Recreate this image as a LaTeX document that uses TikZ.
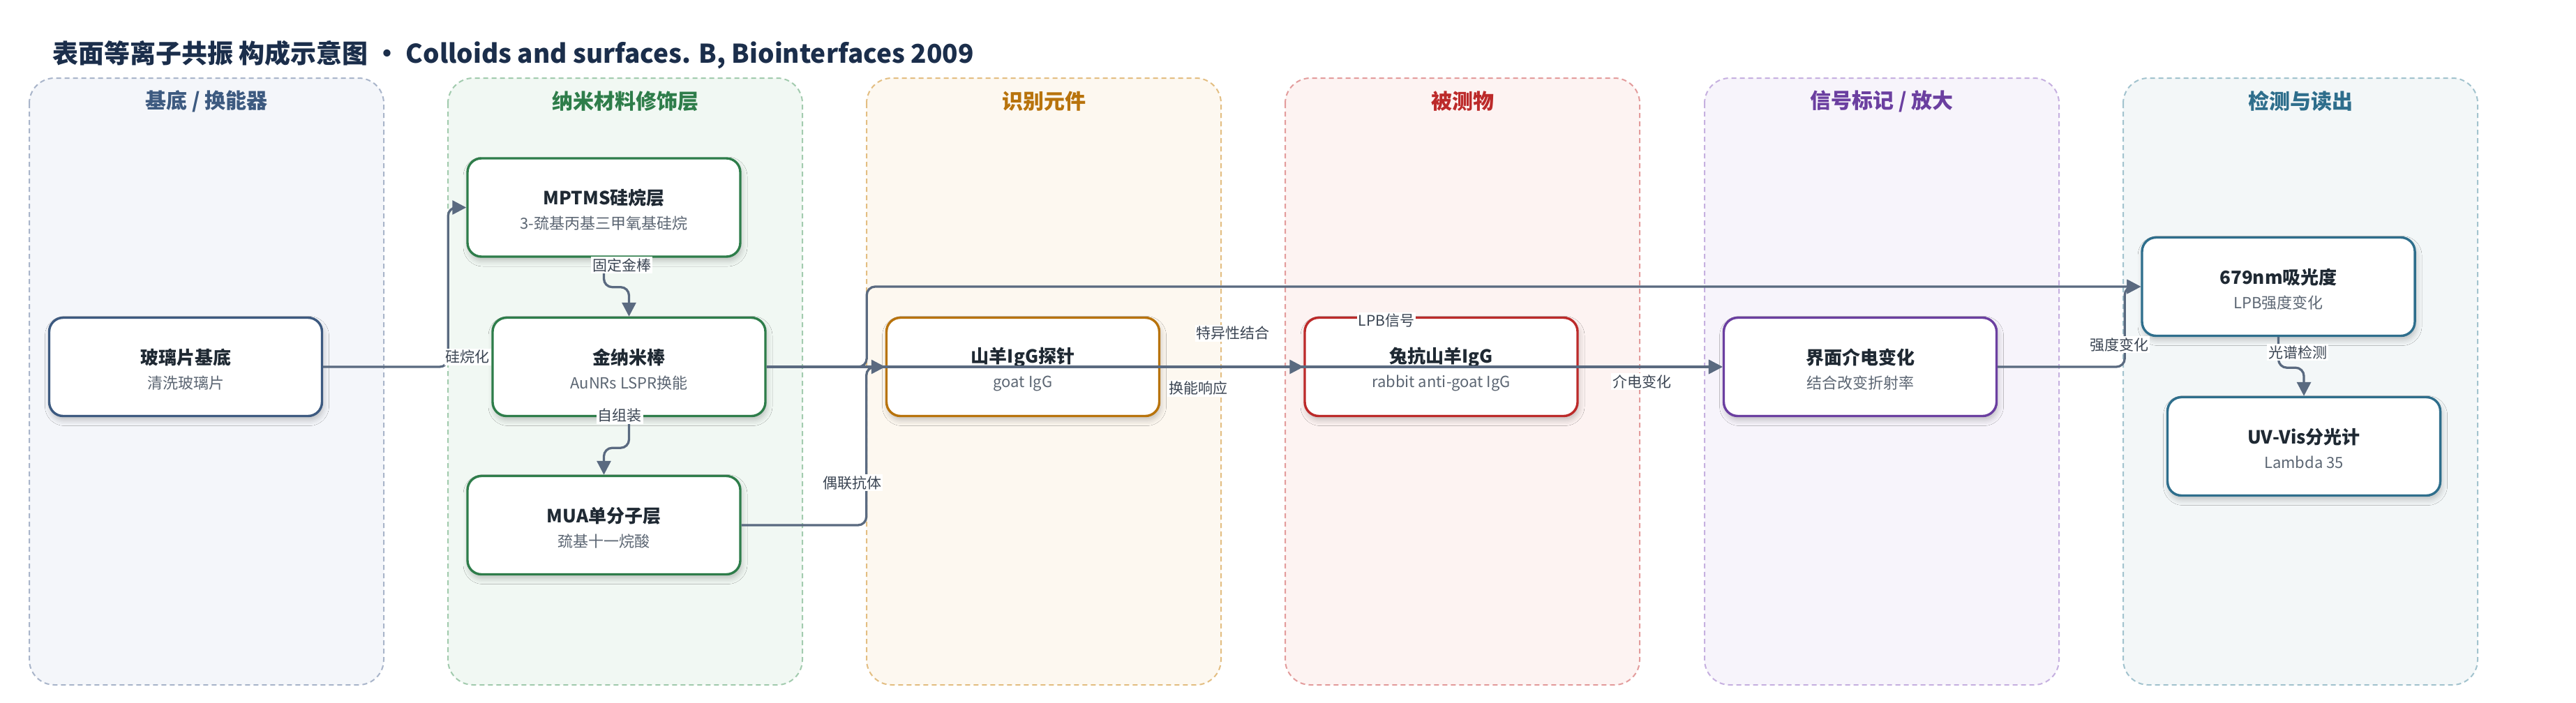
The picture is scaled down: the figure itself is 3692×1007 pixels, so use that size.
\documentclass[tikz,border=0pt]{standalone}
\usepackage{fontspec}
\setmainfont{Noto Sans CJK SC}
\usepackage{tikz}
\usetikzlibrary{arrows.meta}
\usetikzlibrary{shadows.blur}

\definecolor{titlenavy}{HTML}{1B2E4B}
\definecolor{edgegray}{HTML}{5A6A80}
\definecolor{lblgray}{HTML}{3A4452}
\definecolor{subgray}{HTML}{5C6673}
\definecolor{darktext}{HTML}{1F2933}
\definecolor{blueline}{HTML}{3D5A80}
\definecolor{bluedash}{HTML}{A9B5CA}
\definecolor{bluefill}{HTML}{F4F6FA}
\definecolor{greenline}{HTML}{2E7D4A}
\definecolor{greendash}{HTML}{A2CBAE}
\definecolor{greenfill}{HTML}{F1F8F3}
\definecolor{orangeline}{HTML}{B8730C}
\definecolor{orangedash}{HTML}{E3BE82}
\definecolor{orangefill}{HTML}{FDF8F0}
\definecolor{redline}{HTML}{BC2A2A}
\definecolor{reddash}{HTML}{E39C9C}
\definecolor{redfill}{HTML}{FDF3F2}
\definecolor{purpleline}{HTML}{6B3FA0}
\definecolor{purpledash}{HTML}{C6B0E0}
\definecolor{purplefill}{HTML}{F7F4FB}
\definecolor{tealline}{HTML}{2E6E8C}
\definecolor{tealdash}{HTML}{A2C3CE}
\definecolor{tealfill}{HTML}{F3F7F8}

\newcommand{\boxlines}[2]{{\fontsize{13}{15}\selectfont\bfseries\color{darktext}\rule{0pt}{14.5pt}#1}\\[5.5pt]{\fontsize{11}{13}\selectfont\color{subgray}#2}}

\tikzset{
  lane/.style 2 args={draw=#1, fill=#2, line width=1pt, dash pattern=on 3.5pt off 2.5pt, rounded corners=18pt},
  lanetitle/.style={text=#1, font=\fontsize{15}{18}\selectfont\bfseries, inner sep=0pt},
  box/.style={draw=#1, line width=1.7pt, fill=white, rounded corners=10pt, minimum width=195.5pt, minimum height=70.5pt, align=center, inner sep=0pt,
    blur shadow={shadow xshift=1pt, shadow yshift=-3pt, shadow blur radius=4pt, shadow opacity=22}},
  flow/.style={draw=edgegray, line width=1.65pt, rounded corners=6pt, -{Triangle[length=10pt,width=10pt]}},
  lbl/.style={fill=white, inner sep=1pt, text=lblgray, font=\fontsize{10.5}{12}\selectfont}
}

\begin{document}
\begin{tikzpicture}[x=0.5pt,y=0.5pt,yscale=-1,xscale=1]
%set diagram left start at 0, and has height of 1007
\path[fill=white] (0,0) rectangle (3692,1007);
\useasboundingbox (0,0) rectangle (3692,1007);

% Text Node
\node[anchor=west, inner sep=0pt, text=titlenavy, font=\fontsize{18.5}{22}\selectfont\bfseries] (title) at (75,79) {表面等离子共振 构成示意图 · Colloids and surfaces. B, Biointerfaces 2009};

%Shape: Lanes
\draw[lane={bluedash}{bluefill}] (42,112) rectangle (550,982);
\draw[lane={greendash}{greenfill}] (642,112) rectangle (1150,982);
\draw[lane={orangedash}{orangefill}] (1242,112) rectangle (1750,982);
\draw[lane={reddash}{redfill}] (1842,112) rectangle (2350,982);
\draw[lane={purpledash}{purplefill}] (2443,112) rectangle (2951,982);
\draw[lane={tealdash}{tealfill}] (3043,112) rectangle (3551,982);

% Text Node
\node[lanetitle=blueline] (subst) at (296,145) {基底 / 换能器};
\node[lanetitle=greenline] (nano) at (896,145) {纳米材料修饰层};
\node[lanetitle=orangeline] (recog) at (1496,145) {识别元件};
\node[lanetitle=redline] (analyte) at (2096,145) {被测物};
\node[lanetitle=purpleline] (signal) at (2697,145) {信号标记 / 放大};
\node[lanetitle=tealline] (readout) at (3297,145) {检测与读出};

%Shape: Boxes
\node[box=blueline] (glass) at (266,526) {\boxlines{玻璃片基底}{清洗玻璃片}};
\node[box=greenline] (mptms) at (865.5,297.5) {\boxlines{MPTMS硅烷层}{3-巯基丙基三甲氧基硅烷}};
\node[box=greenline] (gold) at (901.5,526) {\boxlines{金纳米棒}{AuNRs LSPR换能}};
\node[box=greenline] (mua) at (865.5,753) {\boxlines{MUA单分子层}{巯基十一烷酸}};
\node[box=orangeline] (probe) at (1466,526) {\boxlines{山羊IgG探针}{goat IgG}};
\node[box=redline] (rabbit) at (2065.5,526) {\boxlines{兔抗山羊IgG}{rabbit anti-goat IgG}};
\node[box=purpleline] (dielec) at (2666,526) {\boxlines{界面介电变化}{结合改变折射率}};
\node[box=tealline] (absorb) at (3265.5,411) {\boxlines{679nm吸光度}{LPB强度变化}};
\node[box=tealline] (uvvis) at (3302,640) {\boxlines{UV-Vis分光计}{Lambda 35}};

%Connectors
\draw[flow] (glass.east) -- ++(179,0) |- (mptms.west);
\draw[flow] (mptms.south) -- ++(0,42) -| (gold.north);
\draw[flow] (gold.south) -- ++(0,44) -| (mua.north);
\draw[flow] (mua.east) -- ++(179,0) |- (probe.west);
\draw[flow] (gold.east) -- ++(143.5,0) |- (absorb.west);
\draw[flow] (gold.east) -- (dielec.west);
\draw[flow] (probe.east) -- (rabbit.west);
\draw[flow] (rabbit.east) -- (dielec.west);
\draw[flow] (dielec.east) -- ++(182,0) |- (absorb.west);
\draw[flow] (absorb.south) -- ++(0,44) -| (uvvis.north);

% Text Node
\node[lbl] (silan) at (670,512) {硅烷化};
\node[lbl] (fixau) at (891,380) {固定金棒};
\node[lbl] (selfas) at (888,596) {自组装};
\node[lbl] (couple) at (1221,692) {偶联抗体};
\node[lbl] (bind) at (1767,478) {特异性结合};
\node[lbl] (transd) at (1717,557) {换能响应};
\node[lbl] (lpb) at (1987,460) {LPB信号};
\node[lbl] (dieltxt) at (2353,547) {介电变化};
\node[lbl] (inten) at (3037,494) {强度变化};
\node[lbl] (spect) at (3293,505) {光谱检测};

\end{tikzpicture}
\end{document}
